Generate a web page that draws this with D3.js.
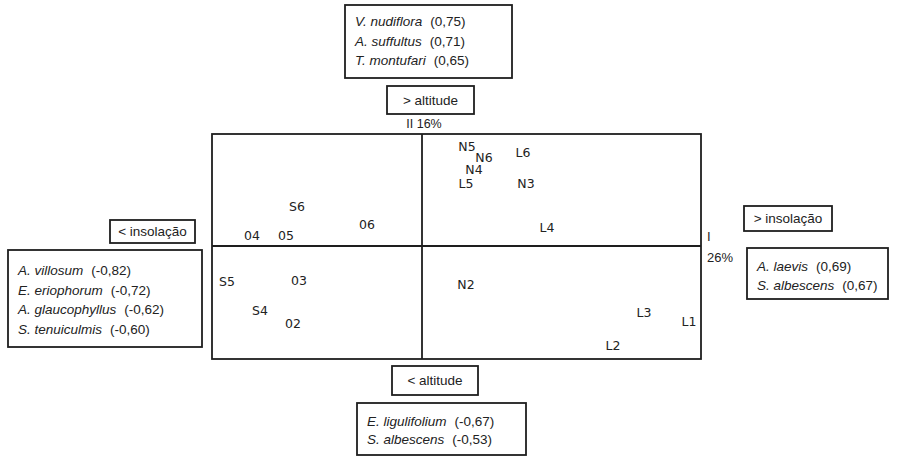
<!DOCTYPE html>
<html>
<head>
<meta charset="utf-8">
<script src="https://cdn.jsdelivr.net/npm/d3@7"></script>
<style>
  body { margin: 0; background: #fff; }
  svg { display: block; }
  text { fill: #222; }
</style>
</head>
<body>
<svg id="svg" width="901" height="456"></svg>
<script>
// site scores on the two ordination axes
var sites = ["N5", "N6", "N4", "L5", "L6", "N3", "S6", "06", "04", "05", "L4",
             "S5", "03", "N2", "S4", "02", "L3", "L1", "L2"];
var axis1 = [0.225, 0.31, 0.26, 0.22, 0.505, 0.52, -0.625, -0.275, -0.85, -0.68, 0.625,
             -0.975, -0.615, 0.22, -0.81, -0.645, 1.11, 1.335, 0.955];
var axis2 = [1.00, 0.89, 0.77, 0.63, 0.94, 0.63, 0.40, 0.22, 0.11, 0.11, 0.19,
             -0.35, -0.34, -0.38, -0.64, -0.77, -0.66, -0.75, -0.99];

var axisLabels = ["I", "26%", "II 16%"];

// species correlated with each pole
var topNames = ["V. nudiflora", "A. suffultus", "T. montufari"];
var topVals = [0.75, 0.71, 0.65];
var leftNames = ["A. villosum", "E. eriophorum", "A. glaucophyllus", "S. tenuiculmis"];
var leftVals = [-0.82, -0.72, -0.62, -0.60];
var rightNames = ["A. laevis", "S. albescens"];
var rightVals = [0.69, 0.67];
var bottomNames = ["E. ligulifolium", "S. albescens"];
var bottomVals = [-0.67, -0.53];

var poleLabels = ["> altitude", "< insolação", "> insolação", "< altitude"];

var svg = d3.select("#svg");
var font = "'Liberation Sans', Arial, sans-serif";

var x = d3.scaleLinear().domain([-1.05, 1.395]).range([212, 701]);
var y = d3.scaleLinear().domain([-1.13, 1.12]).range([359, 134]);

var line = { stroke: "#1e1e1e", "stroke-width": 1.8, fill: "none" };
function styl(sel, o) { for (var k in o) sel.attr(k, o[k]); return sel; }

// frame + axes through the origin
styl(svg.append("rect")
  .attr("x", x.range()[0]).attr("y", y.range()[1])
  .attr("width", x.range()[1] - x.range()[0])
  .attr("height", y.range()[0] - y.range()[1]), line);
styl(svg.append("line").attr("x1", x(0)).attr("x2", x(0))
  .attr("y1", y.range()[1]).attr("y2", y.range()[0]), line);
styl(svg.append("line").attr("x1", x.range()[0]).attr("x2", x.range()[1])
  .attr("y1", y(0)).attr("y2", y(0)), line);

// site labels
svg.selectAll("text.site")
  .data(sites)
.enter().append("text")
  .attr("class", "site")
  .attr("x", function(d, i) { return x(axis1[i]); })
  .attr("y", function(d, i) { return y(axis2[i]); })
  .attr("text-anchor", "middle")
  .attr("dominant-baseline", "central")
  .style("font-family", "'DejaVu Sans', sans-serif")
  .style("font-size", "12.5px")
  .text(function(d) { return d; });

// axis names
svg.append("text").attr("x", x.range()[1] + 6).attr("y", y(0) - 5)
  .style("font-family", font).style("font-size", "13px").text(axisLabels[0]);
svg.append("text").attr("x", x.range()[1] + 6).attr("y", y(0) + 16)
  .style("font-family", font).style("font-size", "13px").text(axisLabels[1]);
svg.append("text").attr("x", x(0) + 2).attr("y", y.range()[1] - 6)
  .attr("text-anchor", "middle")
  .style("font-family", font).style("font-size", "12.5px").text(axisLabels[2]);

function labelBox(txt, x0, y0, w, h) {
  styl(svg.append("rect").attr("x", x0).attr("y", y0).attr("width", w).attr("height", h), line);
  svg.append("text").attr("x", x0 + w / 2).attr("y", y0 + h / 2)
    .attr("text-anchor", "middle").attr("dominant-baseline", "central")
    .style("font-family", font).style("font-size", "13.5px").text(txt);
}

function speciesBox(names, vals, x0, y0, w, h, first, step) {
  styl(svg.append("rect").attr("x", x0).attr("y", y0).attr("width", w).attr("height", h), line);
  var fmt = d3.format(".2f");
  names.forEach(function(n, i) {
    var t = svg.append("text")
      .attr("x", x0 + 10).attr("y", y0 + first + i * step)
      .style("font-family", font).style("font-size", "13.5px");
    t.append("tspan").style("font-style", "italic").text(n);
    t.append("tspan").attr("dx", 8)
      .text("(" + fmt(vals[i]).replace("−", "-").replace(".", ",") + ")");
  });
}

labelBox(poleLabels[0], 387, 86, 87, 28);
labelBox(poleLabels[1], 110, 220, 85, 23);
labelBox(poleLabels[2], 744, 206, 88, 25);
labelBox(poleLabels[3], 392, 366, 86, 29);

speciesBox(topNames, topVals, 345, 5, 167, 73, 21, 19.5);
speciesBox(leftNames, leftVals, 8, 250, 194, 97, 25, 19.5);
speciesBox(rightNames, rightVals, 747, 248, 141, 51, 23, 19);
speciesBox(bottomNames, bottomVals, 357, 403, 169, 52, 23, 17.5);
</script>
</body>
</html>
